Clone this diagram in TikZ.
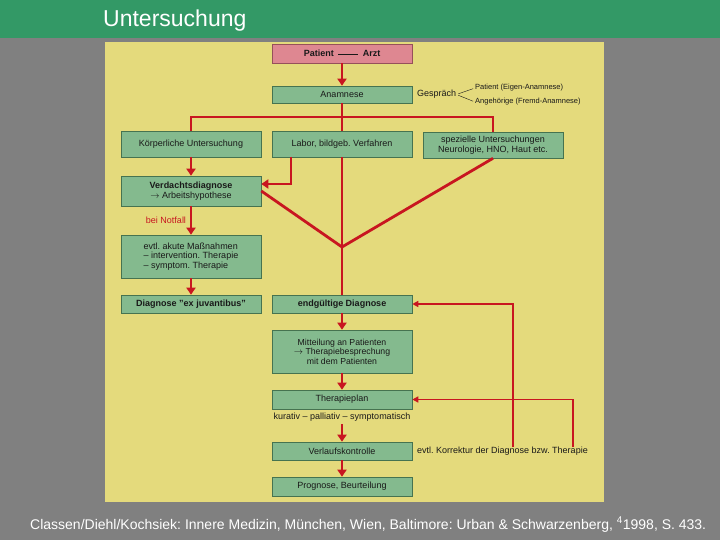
\documentclass[tikz,border=0pt]{standalone}
\usepackage{fontspec}
\setmainfont{Liberation Sans}
\usetikzlibrary{arrows.meta}
\definecolor{bggray}{RGB}{128,128,128}
\definecolor{hdgreen}{RGB}{51,153,102}
\definecolor{panel}{RGB}{228,218,124}
\definecolor{boxgreen}{RGB}{132,186,142}
\definecolor{boxedge}{RGB}{70,115,80}
\definecolor{boxpink}{RGB}{222,135,145}
\definecolor{pinkedge}{RGB}{150,80,90}
\definecolor{flowred}{RGB}{200,22,32}
\definecolor{txt}{RGB}{25,25,25}
\frenchspacing
\begin{document}
\begin{tikzpicture}[x=1pt,y=-1pt,
 box/.style={draw=boxedge, fill=boxgreen, line width=0.6pt, inner sep=0pt, minimum width=140pt, align=center, text=txt, font=\fontsize{9}{10.5}\selectfont},
 pinkbox/.style={box, fill=boxpink, draw=pinkedge},
 flow/.style={draw=flowred, line width=2.8pt},
 arr/.style={-{Triangle[width=9pt,length=7pt]}},
 fb/.style={draw=flowred, line width=1.8pt},
 arrs/.style={-{Triangle[width=6pt,length=6pt]}},
 lbl/.style={inner sep=0pt, text=txt, font=\fontsize{9}{10.5}\selectfont},
 small/.style={inner sep=0pt, text=txt, font=\fontsize{7.5}{9}\selectfont}]
\fill[bggray] (0,0) rectangle (720,540);
\fill[hdgreen] (0,0) rectangle (720,38);
\fill[panel] (105,42) rectangle (604,502);
\useasboundingbox (0,0) rectangle (720,540);
\node[anchor=base west, inner sep=0pt, text=white, font=\fontsize{23}{26}\selectfont] (title) at (103,27) {Untersuchung};
% boxes
\node[pinkbox, minimum height=19pt] (pa) at (342,53.5) {\textbf{Patient}\enspace\rule[2.6pt]{20pt}{0.4pt}\enspace\textbf{Arzt}};
\node[box, minimum height=17pt] (an) at (342,94.5) {Anamnese};
\node[box, minimum height=26pt] (ku) at (191,144) {Körperliche Untersuchung};
\node[box, minimum height=26pt] (la) at (342,144) {Labor, bildgeb. Verfahren};
\node[box, minimum height=26pt, font=\fontsize{9}{9.8}\selectfont] (sp) at (493,145) {spezielle Untersuchungen\\Neurologie, HNO, Haut etc.};
\node[box, minimum height=30pt] (vd) at (191,191) {\textbf{Verdachtsdiagnose}\\$\rightarrow$ Arbeitshypothese};
\node[box, minimum height=43pt, align=left, font=\fontsize{9}{9.6}\selectfont] (ak) at (191,256.5) {evtl. akute Maßnahmen\\– intervention. Therapie\\– symptom. Therapie};
\node[box, minimum height=18pt] (ej) at (191,304) {\textbf{Diagnose "ex juvantibus"}};
\node[box, minimum height=18pt] (eg) at (342,304) {\textbf{endgültige Diagnose}};
\node[box, minimum height=43pt, font=\fontsize{8.7}{9.6}\selectfont] (mi) at (342,351.5) {Mitteilung an Patienten\\$\rightarrow$ Therapiebesprechung\\mit dem Patienten};
\node[box, minimum height=19pt] (tp) at (342,399.5) {Therapieplan};
\node[box, minimum height=18pt] (vk) at (342,451) {Verlaufskontrolle};
\node[box, minimum height=19pt] (pr) at (342,486.5) {Prognose, Beurteilung};
% labels
\node[lbl, anchor=west] (gs) at (417,94.5) {Gespräch};
\node[small, anchor=west] (pe) at (475,88) {Patient (Eigen-Anamnese)};
\node[small, anchor=west] (ag) at (475,102) {Angehörige (Fremd-Anamnese)};
\draw[txt, line width=0.4pt, shorten <=2pt, shorten >=2pt] (gs.east) -- (pe.west);
\draw[txt, line width=0.4pt, shorten <=2pt, shorten >=2pt] (gs.east) -- (ag.west);
\node[lbl] (kp) at (342,417) {kurativ – palliativ – symptomatisch};
\node[lbl, anchor=west] (kr) at (417,451) {evtl. Korrektur der Diagnose bzw. Therapie};
\node[lbl, text=flowred] (bn) at (166,220) {bei Notfall};
% connectors
\coordinate (hl) at (192,117);
\coordinate (lb) at (291,157);
\coordinate (vm) at (342,247);
\coordinate (tpb) at (342,424);
\coordinate (f1) at (513,447);
\coordinate (f2) at (573,447);
\draw[flow, arr] (pa) -- (an);
\draw[flow] (an.south) -- (la.north);
\draw[flow] (ku.north) -- (ku.north |- hl) -- (sp.north |- hl) -- (sp.north);
\draw[flow, arr] (ku) -- (vd);
\draw[flow, arr] (lb) |- ([yshift=7pt]vd.east);
\draw[flow] (vd.east) -- (vm) -- (sp.south);
\draw[flow] (la.south) -- (eg.north);
\draw[flow, arr] (vd) -- (ak);
\draw[flow, arr] (ak) -- (ej);
\draw[flow, arr] (eg) -- (mi);
\draw[flow, arr] (mi) -- (tp);
\draw[flow, arr] (tpb) -- (vk.north);
\draw[flow, arr] (vk) -- (pr);
\draw[fb, arrs] (f1) |- (eg.east);
\draw[fb, arrs] (f2) |- (tp.east);
% caption
\node[anchor=base west, inner sep=0pt, text=white, font=\fontsize{14}{16}\selectfont] (cap) at (30,529) {Classen/Diehl/Kochsiek: Innere Medizin, München, Wien, Baltimore: Urban \& Schwarzenberg, \textsuperscript{4}1998, S. 433.};
\end{tikzpicture}
\end{document}
